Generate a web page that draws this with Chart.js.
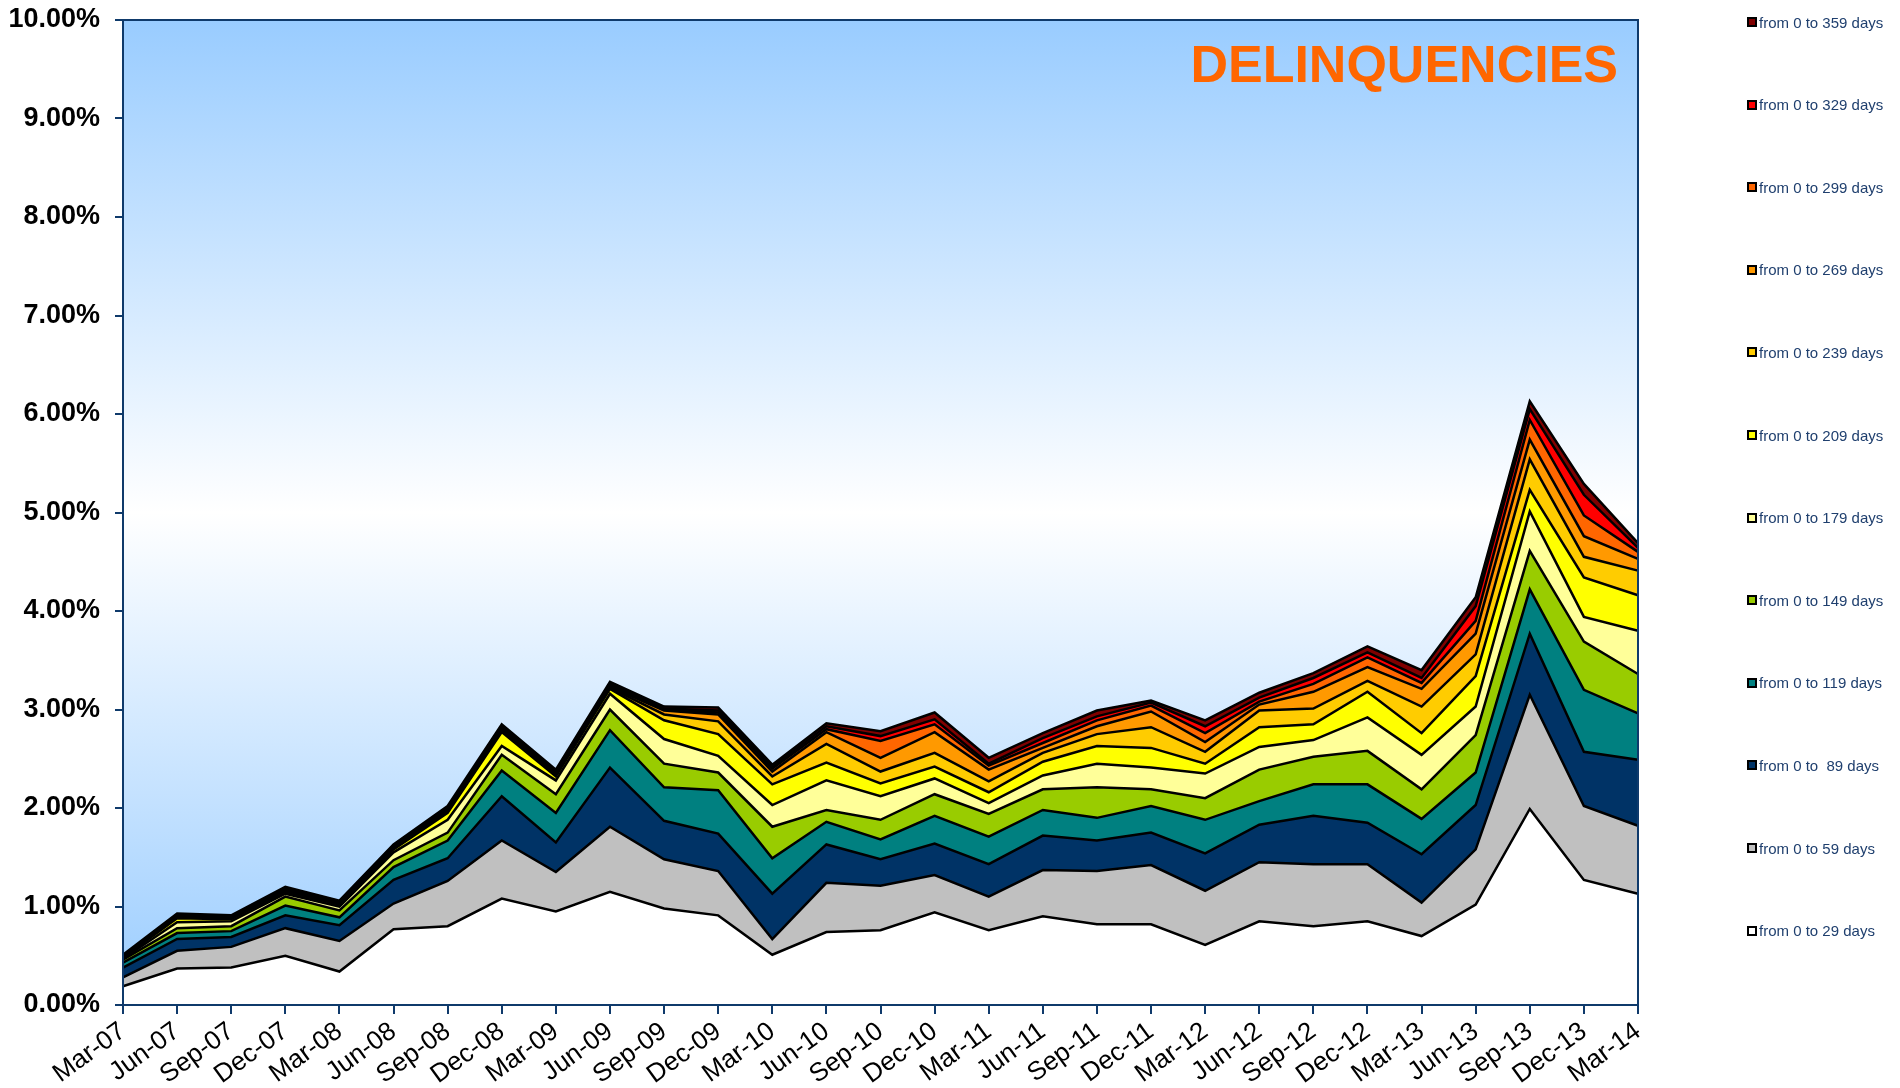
<!DOCTYPE html>
<html>
<head>
<meta charset="utf-8">
<script src="https://cdn.jsdelivr.net/npm/chart.js@4.4.1/dist/chart.umd.min.js"></script>
<style>
  body { margin: 0; background: #ffffff; }
  #wrap { position: relative; width: 1900px; height: 1088px; }
  #legend { position: absolute; left: 0; top: 0; }
  .item { position: absolute; left: 1747px; height: 16px; display: flex; align-items: center;
          font-family: "Liberation Sans", Arial, sans-serif; font-size: 15px; color: #1f3f6e; white-space: pre; }
  .box { width: 6px; height: 6px; border: 2px solid #000; margin-right: 2px; }
</style>
</head>
<body>
<div id="wrap">
  <canvas id="chart"></canvas>
  <div id="legend"></div>
</div>
<script>
const quarters = ["Mar-07", "Jun-07", "Sep-07", "Dec-07", "Mar-08", "Jun-08", "Sep-08", "Dec-08",
  "Mar-09", "Jun-09", "Sep-09", "Dec-09", "Mar-10", "Jun-10", "Sep-10", "Dec-10",
  "Mar-11", "Jun-11", "Sep-11", "Dec-11", "Mar-12", "Jun-12", "Sep-12", "Dec-12",
  "Mar-13", "Jun-13", "Sep-13", "Dec-13", "Mar-14"];

// cumulative delinquency rates in %
const d029 = [0.19, 0.37, 0.38, 0.50, 0.34, 0.77, 0.80, 1.08, 0.95, 1.15, 0.98, 0.91, 0.51, 0.74, 0.76,
  0.94, 0.76, 0.90, 0.82, 0.82, 0.61, 0.85, 0.80, 0.85, 0.70, 1.02, 1.99, 1.27, 1.13];
const d059 = [0.28, 0.55, 0.59, 0.78, 0.65, 1.03, 1.26, 1.67, 1.35, 1.81, 1.48, 1.36, 0.67, 1.24, 1.21,
  1.32, 1.10, 1.37, 1.36, 1.42, 1.16, 1.45, 1.43, 1.43, 1.04, 1.58, 3.15, 2.02, 1.82];
const d089 = [0.38, 0.67, 0.69, 0.91, 0.81, 1.27, 1.49, 2.12, 1.65, 2.41, 1.87, 1.74, 1.13, 1.63, 1.48,
  1.64, 1.43, 1.72, 1.67, 1.75, 1.54, 1.83, 1.92, 1.85, 1.53, 2.03, 3.77, 2.57, 2.49];
const d119 = [0.43, 0.73, 0.75, 1.01, 0.89, 1.40, 1.67, 2.38, 1.95, 2.79, 2.21, 2.18, 1.49, 1.86, 1.68,
  1.92, 1.71, 1.98, 1.90, 2.02, 1.88, 2.07, 2.24, 2.24, 1.89, 2.36, 4.22, 3.20, 2.96];
const d149 = [0.46, 0.78, 0.80, 1.10, 0.96, 1.47, 1.75, 2.54, 2.14, 3.00, 2.45, 2.36, 1.81, 1.98, 1.88,
  2.14, 1.94, 2.19, 2.21, 2.19, 2.10, 2.39, 2.52, 2.58, 2.19, 2.74, 4.61, 3.69, 3.36];
const d179 = [0.47, 0.84, 0.85, 1.13, 1.00, 1.55, 1.88, 2.63, 2.28, 3.16, 2.70, 2.53, 2.03, 2.28, 2.12,
  2.30, 2.05, 2.33, 2.45, 2.41, 2.35, 2.62, 2.69, 2.92, 2.54, 3.03, 5.01, 3.94, 3.80];
const d209 = [0.48, 0.88, 0.87, 1.15, 1.02, 1.58, 1.95, 2.77, 2.32, 3.21, 2.89, 2.75, 2.24, 2.46, 2.25,
  2.42, 2.16, 2.47, 2.63, 2.61, 2.45, 2.82, 2.85, 3.18, 2.76, 3.34, 5.23, 4.34, 4.16];
const d239 = [0.485, 0.89, 0.88, 1.16, 1.03, 1.59, 1.97, 2.79, 2.33, 3.22, 2.95, 2.88, 2.32, 2.65, 2.37,
  2.56, 2.27, 2.56, 2.75, 2.82, 2.57, 2.99, 3.01, 3.29, 3.03, 3.56, 5.54, 4.55, 4.41];
const d269 = [0.49, 0.90, 0.89, 1.17, 1.04, 1.60, 1.98, 2.80, 2.34, 3.23, 2.99, 2.95, 2.37, 2.77, 2.51,
  2.77, 2.39, 2.61, 2.83, 2.98, 2.67, 3.05, 3.18, 3.43, 3.21, 3.77, 5.74, 4.76, 4.53];
const d299 = [0.495, 0.91, 0.89, 1.18, 1.04, 1.61, 1.99, 2.81, 2.35, 3.24, 3.00, 2.97, 2.40, 2.80, 2.68,
  2.85, 2.43, 2.66, 2.89, 3.04, 2.76, 3.08, 3.26, 3.53, 3.27, 3.90, 5.94, 4.97, 4.60];
const d329 = [0.50, 0.92, 0.90, 1.19, 1.05, 1.62, 2.00, 2.83, 2.37, 3.26, 3.01, 2.99, 2.42, 2.83, 2.73,
  2.90, 2.45, 2.71, 2.93, 3.07, 2.83, 3.12, 3.32, 3.58, 3.32, 4.05, 6.05, 5.18, 4.64];
const d359 = [0.51, 0.93, 0.91, 1.20, 1.06, 1.63, 2.02, 2.85, 2.39, 3.28, 3.03, 3.02, 2.44, 2.86, 2.78,
  2.97, 2.51, 2.76, 2.99, 3.09, 2.89, 3.17, 3.37, 3.64, 3.40, 4.14, 6.13, 5.29, 4.69];

const seriesNames = ["from 0 to 29 days", "from 0 to 59 days", "from 0 to  89 days", "from 0 to 119 days",
  "from 0 to 149 days", "from 0 to 179 days", "from 0 to 209 days", "from 0 to 239 days",
  "from 0 to 269 days", "from 0 to 299 days", "from 0 to 329 days", "from 0 to 359 days"];
const seriesData = [d029, d059, d089, d119, d149, d179, d209, d239, d269, d299, d329, d359];
const seriesColors = ["#FFFFFF", "#C0C0C0", "#003366", "#008080", "#99CC00", "#FFFF99",
  "#FFFF00", "#FFCC00", "#FF9900", "#FF6600", "#FF0000", "#800000"];
const yTicks = [0, 1, 2, 3, 4, 5, 6, 7, 8, 9, 10];

const FONT = "'Liberation Sans', Arial, sans-serif";
const AXIS = "#0f3a6b";

// plot area background + frame + title
const plotDecor = {
  id: "plotDecor",
  beforeDatasetsDraw(chart) {
    const { ctx, chartArea: a } = chart;
    const g = ctx.createLinearGradient(0, a.top, 0, a.bottom);
    g.addColorStop(0, "#99CCFF");
    g.addColorStop(0.5, "#FFFFFF");
    g.addColorStop(1, "#99CCFF");
    ctx.save();
    ctx.fillStyle = g;
    ctx.fillRect(a.left, a.top, a.right - a.left, a.bottom - a.top);
    ctx.restore();
  },
  afterDatasetsDraw(chart) {
    const { ctx, chartArea: a } = chart;
    ctx.save();
    ctx.strokeStyle = AXIS;
    ctx.lineWidth = 2;
    ctx.strokeRect(a.left, a.top, a.right - a.left, a.bottom - a.top);
    ctx.fillStyle = "#FF6600";
    ctx.font = "bold 52px " + FONT;
    ctx.textAlign = "right";
    ctx.textBaseline = "alphabetic";
    ctx.fillText("DELINQUENCIES", a.right - 20, a.top + 62);
    ctx.restore();
  }
};

new Chart(document.getElementById("chart"), {
  type: "line",
  data: {
    labels: quarters,
    datasets: seriesData.map((data, i) => ({
      label: seriesNames[i],
      data: data,
      backgroundColor: seriesColors[i],
      borderColor: "#000000",
      borderWidth: 2.5,
      fill: "origin",
      tension: 0,
      pointRadius: 0,
    })),
  },
  options: {
    responsive: true,
    maintainAspectRatio: false,
    animation: false,
    layout: { padding: { top: 20, right: 262, left: 0, bottom: 0 } },
    plugins: {
      legend: { display: false },
      tooltip: { enabled: false },
    },
    scales: {
      x: {
        offset: false,
        grid: { drawOnChartArea: false, drawTicks: true, tickLength: 9, color: AXIS, lineWidth: 2 },
        border: { display: true, color: AXIS, width: 2 },
        ticks: {
          autoSkip: false, maxRotation: 36, minRotation: 36, padding: 2,
          color: "#000", font: { family: FONT, size: 26 },
        },
        afterFit: (s) => { s.height = 83; },
      },
      y: {
        min: 0, max: 10,
        afterBuildTicks: (s) => { s.ticks = yTicks.map((v) => ({ value: v })); },
        grid: { drawOnChartArea: false, drawTicks: true, tickLength: 8, color: AXIS, lineWidth: 2 },
        border: { display: true, color: AXIS, width: 2 },
        ticks: {
          padding: 15, color: "#000",
          font: { family: FONT, size: 27, weight: "bold" },
          callback: (v) => v.toFixed(2) + "%",
        },
        afterFit: (s) => { s.width = 123; s.paddingTop = 0; s.paddingBottom = 0; },
      },
    },
  },
  plugins: [plotDecor],
});

// legend, top entry is the longest bucket
const legend = document.getElementById("legend");
for (let k = 0; k < seriesNames.length; k++) {
  const i = seriesNames.length - 1 - k;
  const item = document.createElement("div");
  item.className = "item";
  item.style.top = (14 + k * 82.6) + "px";
  item.innerHTML = '<span class="box" style="background:' + seriesColors[i] + '"></span>' + seriesNames[i];
  legend.appendChild(item);
}
</script>
</body>
</html>
